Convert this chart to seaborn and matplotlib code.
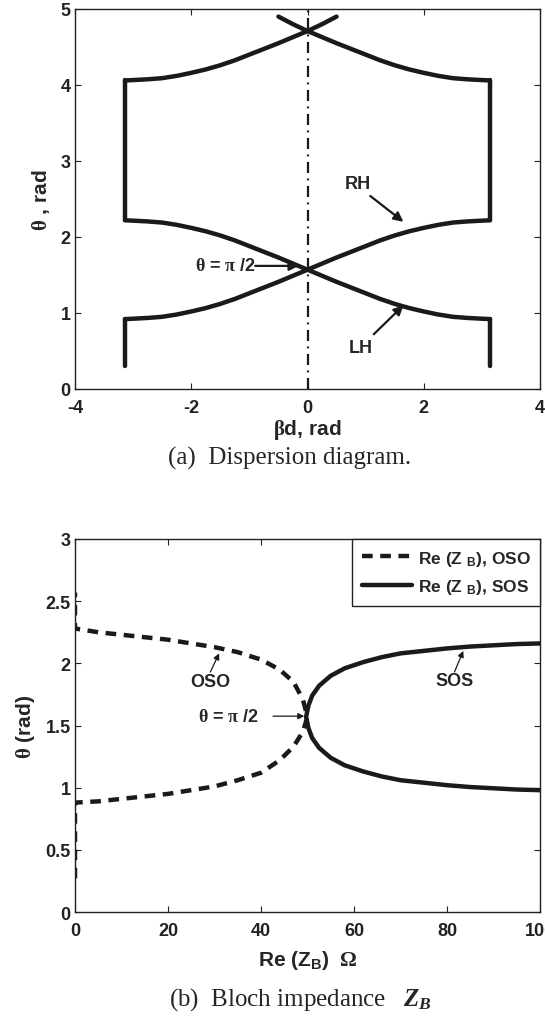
import matplotlib
matplotlib.use("Agg")
import matplotlib.pyplot as plt
import seaborn as sns
from matplotlib.lines import Line2D

# ---------------- data: (a) dispersion diagram ----------------
beta_d = [-3.14, -3.0, -2.75, -2.5, -2.25, -2.0, -1.75, -1.5, -1.25, -1.0, -0.75, -0.5, -0.25, 0.0,
          0.25, 0.5, 0.75, 1.0, 1.25, 1.5, 1.75, 2.0, 2.25, 2.5, 2.75, 3.0, 3.14]
theta_rh = [0.92, 0.925, 0.935, 0.95, 0.98, 1.02, 1.065, 1.12, 1.185, 1.26, 1.335, 1.41, 1.49, 1.57,
            1.65, 1.73, 1.805, 1.88, 1.955, 2.02, 2.075, 2.12, 2.16, 2.19, 2.205, 2.215, 2.22]
theta_lh = [2.22, 2.215, 2.205, 2.19, 2.16, 2.12, 2.075, 2.02, 1.955, 1.88, 1.805, 1.73, 1.65, 1.57,
            1.49, 1.41, 1.335, 1.26, 1.185, 1.12, 1.065, 1.02, 0.98, 0.95, 0.935, 0.925, 0.92]

beta_d_up_rise = [-3.14, -3.0, -2.75, -2.5, -2.25, -2.0, -1.75, -1.5, -1.25, -1.0, -0.75, -0.5, -0.25, 0.0, 0.25, 0.5]
theta_up_rise = [4.06, 4.065, 4.075, 4.09, 4.12, 4.16, 4.205, 4.26, 4.325, 4.40, 4.475, 4.55, 4.63, 4.71, 4.80, 4.90]
beta_d_up_fall = [-0.5, -0.25, 0.0, 0.25, 0.5, 0.75, 1.0, 1.25, 1.5, 1.75, 2.0, 2.25, 2.5, 2.75, 3.0, 3.14]
theta_up_fall = [4.90, 4.80, 4.71, 4.63, 4.55, 4.475, 4.40, 4.325, 4.26, 4.205, 4.16, 4.12, 4.09, 4.075, 4.065, 4.06]

edge_left = [-3.14, -3.14]
edge_right = [3.14, 3.14]
edge_low_theta = [0.30, 0.92]
edge_mid_theta = [2.22, 4.06]

# ---------------- data: (b) Bloch impedance ----------------
oso_stub_low_re = [0.0, 0.0]
oso_stub_low_theta = [0.27, 0.88]
oso_re = [0, 5, 10, 15, 20, 25, 30, 35, 40, 44, 47, 49, 50]
oso_theta_low = [0.88, 0.89, 0.91, 0.93, 0.95, 0.98, 1.01, 1.06, 1.12, 1.22, 1.33, 1.45, 1.57]
oso_theta_up = [2.28, 2.25, 2.23, 2.21, 2.19, 2.16, 2.13, 2.09, 2.03, 1.95, 1.85, 1.71, 1.57]
oso_stub_up_re = [0.0, 0.0]
oso_stub_up_theta = [2.28, 2.57]

sos_re = [49.7, 50.2, 51, 52.5, 55, 58, 62, 66, 70, 75, 80, 85, 90, 95, 100]
sos_theta_up = [1.57, 1.66, 1.74, 1.82, 1.90, 1.96, 2.01, 2.05, 2.08, 2.10, 2.12, 2.135, 2.145, 2.155, 2.16]
sos_theta_low = [1.57, 1.48, 1.40, 1.32, 1.24, 1.18, 1.13, 1.09, 1.06, 1.04, 1.02, 1.005, 0.995, 0.985, 0.98]

xticks_a = [-4, -2, 0, 2, 4]
yticks_a = [0, 1, 2, 3, 4, 5]
xticks_b = [0, 20, 40, 60, 80, 100]
yticks_b = [0, 0.5, 1, 1.5, 2, 2.5, 3]
yticklabels_b = ["0", "0.5", "1", "1.5", "2", "2.5", "3"]

# ---------------- style ----------------
sns.set_theme(style="ticks")
plt.rcParams["font.family"] = ["Liberation Sans", "DejaVu Sans"]
plt.rcParams["font.weight"] = "bold"
plt.rcParams["mathtext.fontset"] = "custom"
plt.rcParams["mathtext.rm"] = "Liberation Serif"
plt.rcParams["mathtext.it"] = "Liberation Serif:italic"
plt.rcParams["mathtext.bf"] = "Liberation Sans:bold"

TICK_FS = 13
LABEL_FS = 15
ANN_FS = 13
LEG_FS = 12.5
CAP_FS = 18

fig = plt.figure(figsize=(5.45, 10.2), dpi=100)
ax1 = fig.add_axes([75 / 545, 1 - 390 / 1020, 465 / 545, 380 / 1020])
ax2 = fig.add_axes([75 / 545, 1 - 913 / 1020, 465 / 545, 373 / 1020])

def style_axes(ax):
    for s in ax.spines.values():
        s.set_linewidth(1.0)
        s.set_color("#222222")
    ax.tick_params(direction="in", length=4, width=0.8, top=True, right=True,
                   labelsize=TICK_FS, colors="#222222")
    ax.tick_params(axis="x", pad=7)
    ax.tick_params(axis="y", pad=3)
    for lab in ax.get_xticklabels() + ax.get_yticklabels():
        lab.set_fontweight("bold")

LW = 3.2
lc = "#1a1a1a"

def draw(ax, x, y, **kw):
    sns.lineplot(x=x, y=y, sort=False, estimator=None, ax=ax, color=lc, **kw)

# (a)
draw(ax1, beta_d, theta_rh, lw=LW)
draw(ax1, beta_d, theta_lh, lw=LW)
draw(ax1, beta_d_up_rise, theta_up_rise, lw=LW)
draw(ax1, beta_d_up_fall, theta_up_fall, lw=LW)
draw(ax1, edge_left, edge_low_theta, lw=LW)
draw(ax1, edge_right, edge_low_theta, lw=LW)
draw(ax1, edge_left, edge_mid_theta, lw=LW)
draw(ax1, edge_right, edge_mid_theta, lw=LW)
ax1.axvline(0, color=lc, lw=1.6, linestyle=(0, (5, 2.5, 0.8, 2.5)))

ax1.set_xlim(-4, 4)
ax1.set_ylim(0, 5)
ax1.set_xticks(xticks_a)
ax1.set_yticks(yticks_a)
ax1.set_xticklabels([str(v) for v in xticks_a])
ax1.set_yticklabels([str(v) for v in yticks_a])
ax1.set_xlabel(r"$\mathrm{\beta}$d, rad", fontsize=LABEL_FS, fontweight="bold", labelpad=1)
ax1.set_ylabel(r"$\mathrm{\theta}$ , rad", fontsize=LABEL_FS, fontweight="bold", labelpad=6)
style_axes(ax1)

arrow_thick = dict(arrowstyle="-|>", color=lc, lw=1.6, mutation_scale=14, shrinkA=0, shrinkB=0)
ax1.text(0.86, 2.70, "RH", fontsize=ANN_FS, fontweight="bold", ha="center", va="center")
ax1.annotate("", xy=(1.65, 2.20), xytext=(1.08, 2.54), arrowprops=arrow_thick)
ax1.text(0.92, 0.54, "LH", fontsize=ANN_FS, fontweight="bold", ha="center", va="center")
ax1.annotate("", xy=(1.65, 1.10), xytext=(1.14, 0.72), arrowprops=arrow_thick)
ax1.text(-0.89, 1.62, r"$\mathrm{\theta}$ = $\mathrm{\pi}$ /2", fontsize=ANN_FS, fontweight="bold",
         ha="right", va="center")
ax1.annotate("", xy=(-0.15, 1.62), xytext=(-0.90, 1.62), arrowprops=arrow_thick)

# (b)
oso_x = oso_stub_low_re + oso_re + oso_re[::-1] + oso_stub_up_re
oso_y = oso_stub_low_theta + oso_theta_low + oso_theta_up[::-1] + oso_stub_up_theta
sos_x = sos_re[::-1] + sos_re
sos_y = sos_theta_low[::-1] + sos_theta_up
draw(ax2, oso_x, oso_y, lw=LW, dashes=False, linestyle=(0, (2.4, 1.7)))
draw(ax2, sos_x, sos_y, lw=LW)

ax2.set_xlim(0, 100)
ax2.set_ylim(0, 3)
ax2.set_xticks(xticks_b)
ax2.set_yticks(yticks_b)
ax2.set_xticklabels([str(v) for v in xticks_b])
ax2.set_yticklabels(yticklabels_b)
ax2.set_xlabel(r"Re (Z$_{\mathbf{B}}$)  $\mathrm{\Omega}$", fontsize=LABEL_FS, fontweight="bold", labelpad=7)
ax2.set_ylabel(r"$\mathrm{\theta}$ (rad)", fontsize=LABEL_FS, fontweight="bold", labelpad=6)
style_axes(ax2)

handles = [Line2D([], [], color=lc, lw=LW, linestyle=(0, (2.4, 1.7))),
           Line2D([], [], color=lc, lw=LW)]
labels = [r"Re (Z $_{\mathbf{B}}$), OSO", r"Re (Z $_{\mathbf{B}}$), SOS"]
leg = ax2.legend(handles, labels, loc="upper right", fontsize=LEG_FS, frameon=True, fancybox=False,
                 edgecolor="#222222", framealpha=1, borderaxespad=0, handlelength=2.9,
                 handletextpad=0.3, labelspacing=0.55, borderpad=0.55)
leg.get_frame().set_linewidth(1.0)
for t in leg.get_texts():
    t.set_fontweight("bold")

arrow_thin = dict(arrowstyle="-|>", color=lc, lw=0.9, mutation_scale=9, shrinkA=0, shrinkB=0)
ax2.text(29.1, 1.85, "OSO", fontsize=ANN_FS, fontweight="bold", ha="center", va="center")
ax2.annotate("", xy=(31.0, 2.08), xytext=(29.1, 1.93), arrowprops=arrow_thin)
ax2.text(81.6, 1.86, "SOS", fontsize=ANN_FS, fontweight="bold", ha="center", va="center")
ax2.annotate("", xy=(83.5, 2.10), xytext=(81.6, 1.93), arrowprops=arrow_thin)
ax2.text(39.6, 1.57, r"$\mathrm{\theta}$ = $\mathrm{\pi}$ /2", fontsize=ANN_FS, fontweight="bold",
         ha="right", va="center")
ax2.annotate("", xy=(49.3, 1.575), xytext=(42.6, 1.575), arrowprops=arrow_thin)

# captions
fig.text(290 / 545, 1 - 458 / 1020, "(a)  Dispersion diagram.", fontsize=CAP_FS,
         family="Liberation Serif", fontweight="normal", ha="center", va="center")
fig.text(300 / 545, 1 - 1000 / 1020, r"(b)  Bloch impedance   $Z_B$", fontsize=CAP_FS,
         family="Liberation Serif", fontweight="normal", ha="center", va="center")

fig.savefig("out.png", dpi=100)
